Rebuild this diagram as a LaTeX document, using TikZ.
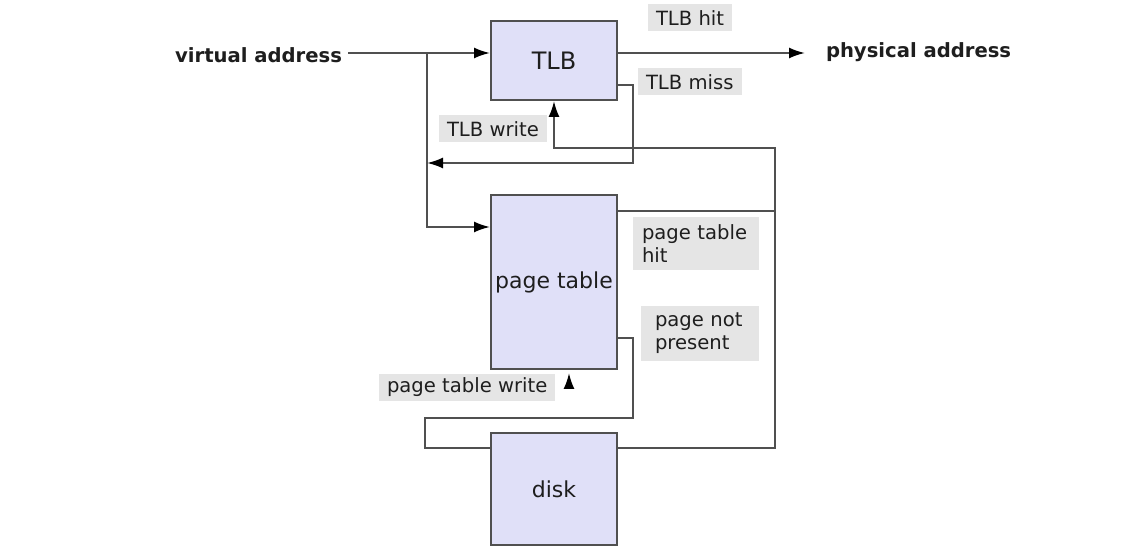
\documentclass[tikz,border=0pt]{standalone}
\usepackage{fontspec}
\setmainfont{DejaVu Sans}
\usetikzlibrary{shapes, arrows.meta, calc, positioning}
\definecolor{boxfill}{RGB}{224,224,248}
\definecolor{linegray}{RGB}{80,80,80}
\definecolor{notegray}{RGB}{229,229,229}
\definecolor{inkgray}{RGB}{30,30,30}

\begin{document}
\begin{tikzpicture}[x=0.5pt, y=-0.5pt, >={Latex[length=8pt, width=5.5pt, color=black]}, line width=1pt]
	\tikzstyle{unit} = [draw=linegray, fill=boxfill, minimum width=63pt, inner sep=0pt, text=inkgray, font=\fontsize{11}{13}\selectfont]
	\tikzstyle{note} = [fill=notegray, inner xsep=4pt, inner ysep=0pt, minimum height=13.5pt, text=inkgray, font=\fontsize{9.8}{11.5}\selectfont]
	\tikzstyle{addr} = [inner xsep=2.5pt, inner ysep=0pt, text=inkgray, font=\fontsize{9.8}{11.5}\selectfont\bfseries]
	\tikzstyle{wire} = [draw=linegray]

	\useasboundingbox (0,0) rectangle (1132,550);

	% boxes
	\node[unit, minimum height=39.5pt, font=\fontsize{12}{14}\selectfont] (tlb) at (554,60.5) {TLB};
	\node[unit, minimum height=87pt] (ptab) at (554,282) {page table};
	\node[unit, minimum height=56pt] (disk) at (554,489) {disk};

	\node[addr, anchor=east] (virt) at (348,55) {virtual address};
	\node[addr, anchor=west, inner xsep=10pt] (phys) at (805,52) {physical address};

	% corners of the wires
	\coordinate (fork) at (427,53);
	\coordinate (ptin) at (427,227);
	\coordinate (missturn) at (633,85);
	\coordinate (missdown) at (633,163);
	\coordinate (bus) at (775,148);
	\coordinate (hitturn) at (775,211);
	\coordinate (faultturn) at (633,338);
	\coordinate (diskturn) at (425,418);
	\coordinate (diskin) at (425,448);
	\coordinate (ptwrite) at (569,387);

	\draw[wire, ->] (virt.east |- fork) -- (fork -| tlb.west);
	\draw[wire, ->] (fork) -- (ptin) -- (ptin -| ptab.west);
	\draw[wire, ->] (fork -| tlb.east) -- (fork -| phys.west);
	\draw[wire, ->] (tlb.east |- missturn) -- (missturn) -- (missdown) -- (missdown -| fork);
	\draw[wire, ->] (disk.east |- diskin) -- (bus |- diskin) -- (bus) -- (bus -| tlb.south) -- (tlb.south);
	\draw[wire] (ptab.east |- hitturn) -- (hitturn);
	\draw[wire] (ptab.east |- faultturn) -- (faultturn) -- (faultturn |- diskturn) -- (diskturn) -- (diskin) -- (diskin -| disk.west);
	\draw[wire, ->, shorten >=1.5pt] (ptwrite) -- (ptwrite |- ptab.south);

	% labels
	\node[note, anchor=west] (hitlbl) at (647,18) {TLB hit};
	\node[note, anchor=west] (misslbl) at (637,82) {TLB miss};
	\node[note, anchor=west] (wrlbl) at (438,129) {TLB write};
	\node[note, anchor=west] (ptwrlbl) at (378,387.5) {page table write};
	\node[note, anchor=north west, align=left, text width=54pt, inner xsep=4.5pt, minimum height=26.5pt] (pthitlbl) at (632,216) {page table\\hit};
	\node[note, anchor=north west, align=left, text width=45pt, inner xsep=7pt, minimum height=27.5pt] (nplbl) at (640,305) {page not\\present};
\end{tikzpicture}
\end{document}
